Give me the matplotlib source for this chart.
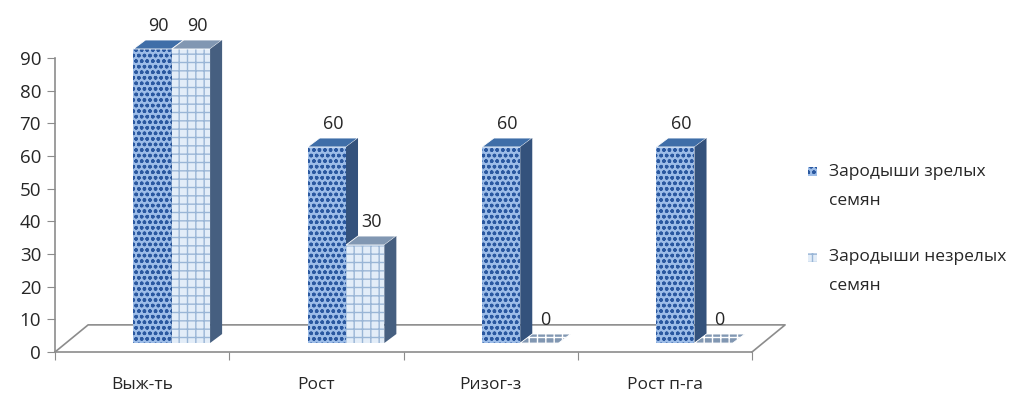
import matplotlib
matplotlib.use("Agg")
import matplotlib.pyplot as plt
from matplotlib.patches import Polygon, Rectangle
import numpy as np

plt.rcParams['font.family'] = ['Open Sans', 'DejaVu Sans']

categories = ["Выж-ть", "Рост", "Ризог-з", "Рост п-га"]
series_names = ["Зародыши зрелых\nсемян", "Зародыши незрелых\nсемян"]
mature = [90, 60, 60, 60]
immature = [90, 30, 0, 0]
y_ticks = [0, 10, 20, 30, 40, 50, 60, 70, 80, 90]

W, H = 1032, 401
fig = plt.figure(figsize=(W / 100, H / 100), dpi=100)
# axes: x 0..4 spans the floor front edge, y 0..100 in value units
ax = fig.add_axes([55 / W, (H - 352) / H, 697 / W, 326.7 / H])
ax.set_xlim(0, 4)
ax.set_ylim(0, 100)

grey = '#8c8c8c'
txt = '#262626'

# floor of the pseudo-3D plot
floor_dx, floor_dy = 0.19, 8.3
ax.plot([0, floor_dx, 4 + floor_dx, 4], [0, floor_dy, floor_dy, 0],
        color=grey, lw=1.2, zorder=1, clip_on=False)

# bar geometry
bw = 0.22          # width of one bar front face
x0 = 0.45          # offset of first bar inside a category
base = 2.75        # bars stand in the middle of the floor depth
ddx, ddy = 0.069, 2.75   # depth projection of bar top/side

styles = [
    dict(face='#9dbde8', hatch='ooo', hcolor='#2a58a0',
         top='#3f6ea8', side='#34527c'),
    dict(face='#e3edf8', hatch='++', hcolor='#9ab6d6',
         top='#8197b2', side='#465f80'),
]

idx = np.arange(len(categories))
for s, (vals, st) in enumerate(zip([mature, immature], styles)):
    left = idx + x0 + s * bw
    ax.bar(left, vals, width=bw, bottom=base, align='edge',
           color=st['face'], edgecolor=st['hcolor'], hatch=st['hatch'],
           linewidth=0, zorder=3 + s * 3)
    for xl, v in zip(left, vals):
        top_y = base + v
        xr = xl + bw
        # top face
        ax.add_patch(Polygon([[xl, top_y], [xr, top_y], [xr + ddx, top_y + ddy],
                              [xl + ddx, top_y + ddy]], closed=True,
                             facecolor=st['top'], edgecolor='white', lw=0.6,
                             hatch=st['hatch'] if v == 0 else None,
                             zorder=4 + s * 3, clip_on=False))
        # side face
        if v > 0:
            ax.add_patch(Polygon([[xr, base], [xr, top_y], [xr + ddx, top_y + ddy],
                                  [xr + ddx, base + ddy]], closed=True,
                                 facecolor=st['side'], edgecolor='none',
                                 zorder=5 + s * 3, clip_on=False))
        ax.text(xl + bw / 2 + ddx / 2, top_y + 7.0, f"{v}", ha='center',
                va='center', fontsize=13, color=txt, zorder=20)

# axes decoration
for sp in ['top', 'right']:
    ax.spines[sp].set_visible(False)
ax.spines['left'].set_bounds(0, 90)
ax.spines['left'].set_color(grey)
ax.spines['left'].set_linewidth(1.2)
ax.spines['bottom'].set_color(grey)
ax.spines['bottom'].set_linewidth(1.2)
ax.set_yticks(y_ticks)
ax.set_yticklabels([str(t) for t in y_ticks], fontsize=13.5, color=txt)
ax.tick_params(axis='y', direction='out', length=6, color=grey, pad=4)
ax.set_xticks(np.arange(len(categories) + 1))
ax.set_xticklabels([])
ax.tick_params(axis='x', which='major', direction='out', length=6, color=grey)
ax.set_xticks(idx + 0.5, minor=True)
ax.set_xticklabels(categories, minor=True, fontsize=12.5, color=txt)
ax.tick_params(axis='x', which='minor', length=0, pad=18)
ax.set_facecolor('none')

# legend: square swatch next to the first line of a two-line label
legend_rows = [172, 257]   # first-line centres, pixels from top
for name, st, yrow in zip(series_names, styles, legend_rows):
    yf = 1 - yrow / H
    fig.patches.append(Rectangle((808 / W, yf - 4.5 / H), 9 / W, 9 / H,
                                 transform=fig.transFigure, facecolor=st['face'],
                                 edgecolor=st['hcolor'], hatch=st['hatch'], lw=0))
    line1, line2 = name.split("\n")
    fig.text(829 / W, yf, line1, ha='left', va='center', fontsize=12.5, color=txt)
    fig.text(829 / W, 1 - (yrow + 29) / H, line2, ha='left', va='center',
             fontsize=12.5, color=txt)

fig.savefig('out.png', dpi=100, facecolor='white')
